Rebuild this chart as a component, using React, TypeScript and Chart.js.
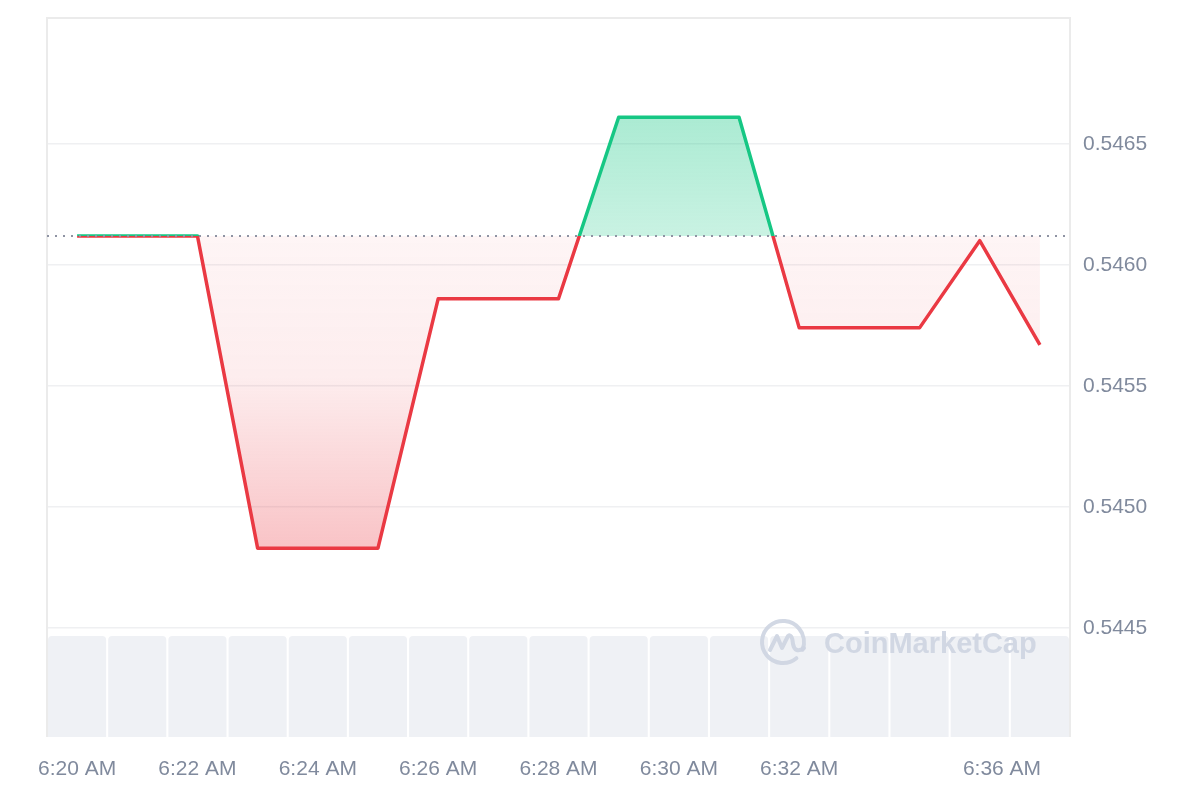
import React, { useEffect, useRef } from "react";
import { Chart, registerables } from "chart.js";

Chart.register(...registerables);

// ---- Data ----
const timeLabels = [
  "6:20 AM", "6:21 AM", "6:22 AM", "6:23 AM", "6:24 AM", "6:25 AM",
  "6:26 AM", "6:27 AM", "6:28 AM", "6:29 AM", "6:30 AM", "6:31 AM",
  "6:32 AM", "6:33 AM", "6:34 AM", "6:35 AM", "6:36 AM",
];
const shownTimeLabels = [
  "6:20 AM", "6:22 AM", "6:24 AM", "6:26 AM", "6:28 AM", "6:30 AM", "6:32 AM", "6:36 AM",
];
const prices = [
  0.54612, 0.54612, 0.54612, 0.54483, 0.54483, 0.54483,
  0.54586, 0.54586, 0.54586, 0.54661, 0.54661, 0.54661,
  0.54574, 0.54574, 0.54574, 0.5461, 0.54567,
];
const volumes = [1, 1, 1, 1, 1, 1, 1, 1, 1, 1, 1, 1, 1, 1, 1, 1, 1];
const baselinePrice = 0.54612;
const yTickValues = [0.5445, 0.545, 0.5455, 0.546, 0.5465];
const yMin = 0.54405;
const yMax = 0.54702;
const volumeAxisMax = 7.12;

const RED = "#ea3943";
const GREEN = "#16c784";
const LABEL_COLOR = "#808a9d";
const FONT = "'Liberation Sans', Arial, Helvetica, sans-serif";

const framePlugin = {
  id: "frame",
  beforeDatasetsDraw(chart: any) {
    const { ctx, chartArea: a } = chart;
    ctx.save();
    ctx.strokeStyle = "#ebebeb";
    ctx.lineWidth = 2;
    ctx.beginPath();
    ctx.moveTo(a.left, a.bottom);
    ctx.lineTo(a.left, a.top);
    ctx.lineTo(a.right, a.top);
    ctx.lineTo(a.right, a.bottom);
    ctx.stroke();
    ctx.restore();
  },
};

const overlayPlugin = {
  id: "overlay",
  afterDatasetsDraw(chart: any) {
    const { ctx, chartArea: a } = chart;
    // watermark
    ctx.save();
    ctx.fillStyle = "rgba(205,212,225,0.9)";
    ctx.strokeStyle = "rgba(205,212,225,0.9)";
    ctx.font = `bold 29px ${FONT}`;
    ctx.textBaseline = "alphabetic";
    ctx.textAlign = "left";
    ctx.fillText("CoinMarketCap", 824, 653);
    // logo
    const cx = 783, cy = 642, r = 21;
    ctx.lineWidth = 4;
    ctx.lineCap = "round";
    ctx.lineJoin = "round";
    ctx.beginPath();
    ctx.arc(cx, cy, r, 0.28 * Math.PI, 2.12 * Math.PI);
    ctx.stroke();
    ctx.beginPath();
    ctx.moveTo(cx - 13, cy + 8);
    ctx.lineTo(cx - 6, cy - 6);
    ctx.lineTo(cx - 1, cy + 6);
    ctx.lineTo(cx + 5, cy - 6);
    ctx.quadraticCurveTo(cx + 9, cy - 9, cx + 10, cy + 2);
    ctx.quadraticCurveTo(cx + 12, cy + 12, cx + 21, cy + 6);
    ctx.stroke();
    ctx.restore();

    // dotted baseline
    const y = chart.scales.y.getPixelForValue(baselinePrice);
    ctx.save();
    ctx.strokeStyle = "#8e93a3";
    ctx.lineWidth = 2;
    ctx.setLineDash([2, 6]);
    ctx.beginPath();
    ctx.moveTo(a.left, y);
    ctx.lineTo(a.right, y);
    ctx.stroke();
    ctx.restore();
  },
};

export default function App() {
  const canvasRef = useRef<HTMLCanvasElement | null>(null);

  useEffect(() => {
    document.body.style.margin = "0";
    const canvas = canvasRef.current;
    if (!canvas) return;

    const chart: any = new Chart(canvas, {
      data: {
        labels: timeLabels,
        datasets: [
          {
            type: "line",
            label: "Price",
            data: prices,
            yAxisID: "y",
            borderColor: RED,
            borderWidth: 3.5,
            pointRadius: 0,
            pointHoverRadius: 0,
            tension: 0,
            borderJoinStyle: "round",
            fill: { value: baselinePrice },
            order: 0,
          } as any,
          {
            type: "bar",
            label: "Volume",
            data: volumes,
            yAxisID: "y2",
            backgroundColor: "#eff1f5",
            borderRadius: { topLeft: 4, topRight: 4, bottomLeft: 0, bottomRight: 0 },
            borderSkipped: "bottom",
            barPercentage: 1,
            categoryPercentage: 0.966,
            order: 1,
          } as any,
        ],
      },
      options: {
        responsive: false,
        animation: false,
        layout: { padding: { left: 47, top: 18, right: 0, bottom: 0 } },
        plugins: {
          legend: { display: false },
          tooltip: { enabled: false },
        },
        scales: {
          x: {
            type: "category",
            offset: true,
            grid: { display: false },
            border: { display: false },
            ticks: {
              autoSkip: false,
              maxRotation: 0,
              minRotation: 0,
              padding: 12,
              color: LABEL_COLOR,
              font: { family: FONT, size: 21 },
              callback: function (this: any, _v: any, i: number) {
                const l = timeLabels[i];
                if (!shownTimeLabels.includes(l)) return "";
                // last label sits right-aligned at its point
                return i === timeLabels.length - 1 ? l + " ".repeat(13) : l;
              },
            },
            afterFit: (s: any) => {
              s.height = 63;
              s.paddingLeft = 0;
              s.paddingRight = 0;
            },
          },
          y: {
            position: "right",
            min: yMin,
            max: yMax,
            grid: { color: "#eff0f2", lineWidth: 1.5, drawTicks: false },
            border: { display: false },
            afterBuildTicks: (s: any) => {
              s.ticks = yTickValues.map((v) => ({ value: v }));
            },
            ticks: {
              padding: 13,
              color: LABEL_COLOR,
              font: { family: FONT, size: 21 },
              callback: (v: any) => Number(v).toFixed(4),
            },
            afterFit: (s: any) => {
              s.width = 130;
              s.paddingTop = 0;
              s.paddingBottom = 0;
            },
          },
          y2: {
            display: false,
            min: 0,
            max: volumeAxisMax,
          },
        },
      },
      plugins: [framePlugin, overlayPlugin],
    } as any);

    // build gradients from the laid-out scales
    const a = chart.chartArea;
    const ys = chart.scales.y;
    const ctx = chart.ctx as CanvasRenderingContext2D;
    const basePx = ys.getPixelForValue(baselinePrice);
    const hiPx = ys.getPixelForValue(Math.max(...prices));
    const loPx = ys.getPixelForValue(Math.min(...prices));
    const t = Math.min(1, Math.max(0, (basePx - a.top) / (a.bottom - a.top)));
    const lineG = ctx.createLinearGradient(0, a.top, 0, a.bottom);
    lineG.addColorStop(0, GREEN);
    lineG.addColorStop(t, GREEN);
    lineG.addColorStop(t, RED);
    lineG.addColorStop(1, RED);
    const aboveG = ctx.createLinearGradient(0, hiPx, 0, basePx);
    aboveG.addColorStop(0, "rgba(22,199,132,0.36)");
    aboveG.addColorStop(1, "rgba(22,199,132,0.23)");
    const belowG = ctx.createLinearGradient(0, basePx, 0, loPx);
    belowG.addColorStop(0, "rgba(234,57,67,0.05)");
    belowG.addColorStop(0.45, "rgba(234,57,67,0.09)");
    belowG.addColorStop(1, "rgba(234,57,67,0.3)");
    const ds = chart.data.datasets[0];
    ds.borderColor = lineG;
    ds.fill = { value: baselinePrice, above: aboveG, below: belowG };
    chart.update("none");

    return () => chart.destroy();
  }, []);

  return (
    <div style={{ position: "absolute", left: 0, top: 0, width: 1200, height: 800 }}>
      <canvas ref={canvasRef} width={1200} height={800} style={{ width: 1200, height: 800 }} />
    </div>
  );
}
